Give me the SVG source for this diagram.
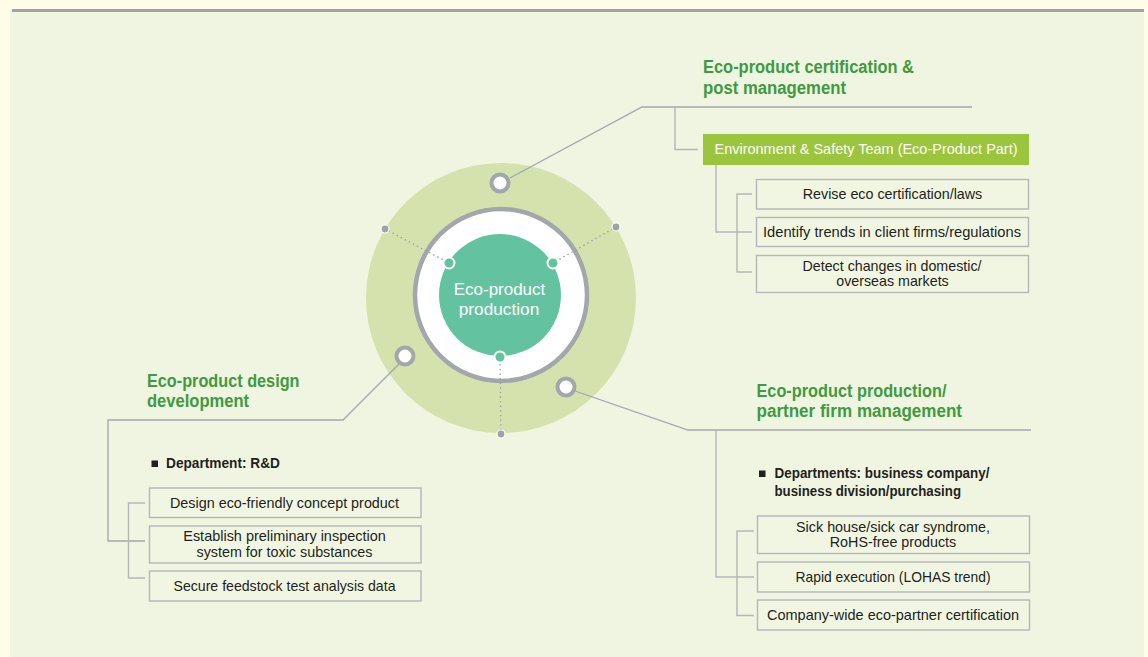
<svg xmlns="http://www.w3.org/2000/svg" width="1148" height="657" viewBox="0 0 1148 657">
<style>
.title{font-family:"Liberation Sans",Arial,sans-serif;font-size:17.5px;font-weight:bold;fill:#3f9b3f}
.bx{fill:#f1f6e3;stroke:#b3b7ba;stroke-width:1.4}
.bt{font-family:"Liberation Sans",Arial,sans-serif;font-size:14.5px;fill:#231f20;text-anchor:middle}
.dep{font-family:"Liberation Sans",Arial,sans-serif;font-size:14.5px;font-weight:bold;fill:#231f20}
.br{fill:none;stroke:#b3b7ba;stroke-width:1.4}
.cn{fill:none;stroke:#a3a6ab;stroke-width:1.3}
.dot{fill:none;stroke:#9fa3a8;stroke-width:1.6;stroke-dasharray:0.1 4.5;stroke-linecap:round}
.gd{fill:#9fa3a8;stroke:#ffffff;stroke-width:1.2}
.gn{fill:#63c3a0;stroke:#ffffff;stroke-width:2}
.oc{fill:#ffffff;stroke:#a3a6ab;stroke-width:4}
</style>
<rect x="0" y="0" width="1148" height="657" fill="#fffde7"/>
<rect x="10" y="9" width="1134" height="648" fill="#f0f5e1"/>
<rect x="12" y="9" width="1132" height="3" fill="#a0a3a8"/>

<g id="hub">
<circle cx="501" cy="298" r="135" fill="#d5e2ad"/>
<circle cx="501" cy="295" r="86" fill="#ffffff" stroke="#a3a6ab" stroke-width="4.5"/>
<circle cx="500" cy="295" r="61" fill="#63c3a0"/>
<text font-family="Liberation Sans, Arial, sans-serif" font-size="17px" fill="#ffffff" text-anchor="middle"><tspan x="499.5" y="295" textLength="91.5" lengthAdjust="spacingAndGlyphs">Eco-product</tspan><tspan x="499" y="315" textLength="80.5" lengthAdjust="spacingAndGlyphs">production</tspan></text>
</g>

<g id="connectors">
<polyline class="cn" points="510,178 642,107 972,107"/>
<polyline class="br" points="675,107 675,149.5 698,149.5"/>
<polyline class="br" points="716,165 716,232 752,232"/>
<polyline class="br" points="752,194 737,194 737,272 752,272"/>
<polyline class="cn" points="399,364 343,420 108,420 108,541 145,541"/>
<polyline class="br" points="145,503 128.5,503 128.5,578 145,578"/>
<polyline class="cn" points="575,391 688,430 1031,430"/>
<polyline class="br" points="716,430 716,577 754,577"/>
<polyline class="br" points="754,531 737,531 737,615.5 754,615.5"/>
<line class="dot" x1="385" y1="229" x2="449" y2="263"/>
<line class="dot" x1="616" y1="227" x2="553" y2="263"/>
<line class="dot" x1="501" y1="434" x2="500" y2="357"/>
</g>

<g id="hub-dots">
<circle class="gn" cx="449" cy="263" r="5.5"/>
<circle class="gn" cx="553" cy="263" r="5.5"/>
<circle class="gn" cx="500" cy="357" r="5.5"/>
<circle class="gd" cx="385" cy="229" r="4"/>
<circle class="gd" cx="616" cy="227" r="4"/>
<circle class="gd" cx="501" cy="434" r="4"/>
<circle class="oc" cx="500" cy="183" r="8.5"/>
<circle class="oc" cx="405" cy="356" r="8.5"/>
<circle class="oc" cx="566" cy="387" r="8.5"/>
</g>

<g id="cert">
<text class="title"><tspan x="703" y="73" textLength="211" lengthAdjust="spacingAndGlyphs">Eco-product certification &amp;</tspan><tspan x="703" y="93.5" textLength="143" lengthAdjust="spacingAndGlyphs">post management</tspan></text>
</g>
<g id="team">
<rect x="703" y="134" width="326" height="31" fill="#9bc53d"/>
<text x="866" y="154" font-family="Liberation Sans, Arial, sans-serif" font-size="14.5px" fill="#ffffff" text-anchor="middle" textLength="303" lengthAdjust="spacingAndGlyphs">Environment &amp; Safety Team (Eco-Product Part)</text>
</g>
<g id="cert1">
<rect class="bx" x="756.5" y="179.5" width="272" height="29.5"/>
<text class="bt" x="892.5" y="199" textLength="179.5" lengthAdjust="spacingAndGlyphs">Revise eco certification/laws</text>
</g>
<g id="cert2">
<rect class="bx" x="756.5" y="217.5" width="272" height="29"/>
<text class="bt" x="892" y="237" textLength="258" lengthAdjust="spacingAndGlyphs">Identify trends in client firms/regulations</text>
</g>
<g id="cert3">
<rect class="bx" x="756.5" y="255.5" width="272" height="37"/>
<text class="bt"><tspan x="892" y="270.5" textLength="179" lengthAdjust="spacingAndGlyphs">Detect changes in domestic/</tspan><tspan x="892.5" y="285.5" textLength="112.5" lengthAdjust="spacingAndGlyphs">overseas markets</tspan></text>
</g>

<g id="design">
<text class="title"><tspan x="147" y="386.5" textLength="152.5" lengthAdjust="spacingAndGlyphs">Eco-product design</tspan><tspan x="147" y="407" textLength="102" lengthAdjust="spacingAndGlyphs">development</tspan></text>
<rect x="151.5" y="460.5" width="6.5" height="6.5" fill="#231f20"/>
<text class="dep" x="166" y="467.5" textLength="114" lengthAdjust="spacingAndGlyphs">Department: R&amp;D</text>
</g>
<g id="design1">
<rect class="bx" x="149.5" y="488" width="271.5" height="29.5"/>
<text class="bt" x="284.5" y="507.5" textLength="229" lengthAdjust="spacingAndGlyphs">Design eco-friendly concept product</text>
</g>
<g id="design2">
<rect class="bx" x="149.5" y="526" width="271.5" height="37"/>
<text class="bt"><tspan x="284.5" y="540.5" textLength="202.5" lengthAdjust="spacingAndGlyphs">Establish preliminary inspection</tspan><tspan x="284.5" y="556.5" textLength="176" lengthAdjust="spacingAndGlyphs">system for toxic substances</tspan></text>
</g>
<g id="design3">
<rect class="bx" x="149.5" y="571" width="271.5" height="30"/>
<text class="bt" x="284.5" y="591" textLength="222" lengthAdjust="spacingAndGlyphs">Secure feedstock test analysis data</text>
</g>

<g id="prod">
<text class="title"><tspan x="756.5" y="397" textLength="190" lengthAdjust="spacingAndGlyphs">Eco-product production/</tspan><tspan x="756.5" y="417" textLength="205.5" lengthAdjust="spacingAndGlyphs">partner firm management</tspan></text>
<rect x="759" y="470.5" width="6.5" height="6.5" fill="#231f20"/>
<text class="dep"><tspan x="774.5" y="477.5" textLength="215" lengthAdjust="spacingAndGlyphs">Departments: business company/</tspan><tspan x="774.5" y="495.5" textLength="186.5" lengthAdjust="spacingAndGlyphs">business division/purchasing</tspan></text>
</g>
<g id="prod1">
<rect class="bx" x="757.5" y="516" width="272" height="37.5"/>
<text class="bt"><tspan x="893" y="532" textLength="194" lengthAdjust="spacingAndGlyphs">Sick house/sick car syndrome,</tspan><tspan x="893" y="547" textLength="126.5" lengthAdjust="spacingAndGlyphs">RoHS-free products</tspan></text>
</g>
<g id="prod2">
<rect class="bx" x="757.5" y="562" width="272" height="30"/>
<text class="bt" x="893" y="582" textLength="195" lengthAdjust="spacingAndGlyphs">Rapid execution (LOHAS trend)</text>
</g>
<g id="prod3">
<rect class="bx" x="757.5" y="600" width="272" height="30"/>
<text class="bt" x="893" y="620" textLength="252" lengthAdjust="spacingAndGlyphs">Company-wide eco-partner certification</text>
</g>
</svg>
